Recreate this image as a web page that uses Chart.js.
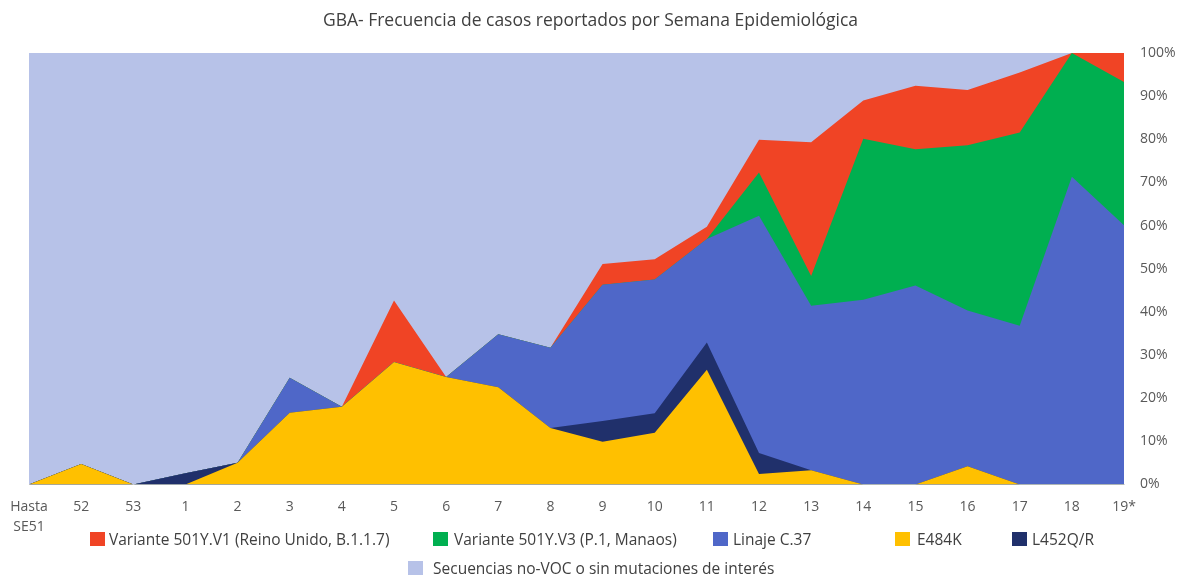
<!DOCTYPE html>
<html>
<head>
<meta charset="utf-8">
<title>GBA - Frecuencia de casos</title>
<script src="https://cdn.jsdelivr.net/npm/chart.js@4.4.0/dist/chart.umd.min.js"></script>
<style>
    body { margin: 0; background: #fff; }
    #wrap { position: relative; width: 1181px; height: 576px; font-family: "Open Sans", sans-serif; overflow: hidden; }
    #grafico { position: absolute; left: 0; top: 0; }
    .item-leyenda {
        position: absolute; height: 20px; display: flex; align-items: center;
        font-size: 15.5px; color: #404040; white-space: nowrap;
    }
    .item-leyenda .caja { width: 15px; height: 14px; margin-right: 4px; }
</style>
</head>
<body>
<div id="wrap">
    <canvas id="grafico" width="1181" height="576"></canvas>
    <div id="leyenda"></div>
</div>
<script>
// --- Datos (porcentaje de secuencias por semana epidemiológica) ---
const semanas = [["Hasta", "SE51"], "52", "53", "1", "2", "3", "4", "5", "6", "7", "8",
    "9", "10", "11", "12", "13", "14", "15", "16", "17", "18", "19*"];

const e484k   = [0, 4.7, 0, 0, 5, 16.6, 18, 28.4, 24.9, 22.5, 13.1, 9.9, 12, 26.6, 2.4, 3.3, 0, 0, 4.2, 0, 0, 0];
const l452qr  = [0, 0, 0, 2.6, 0, 0, 0, 0, 0, 0, 0, 4.8, 4.5, 6.3, 4.9, 0, 0, 0, 0, 0, 0, 0];
const linajeC37 = [0, 0, 0, 0, 0, 8.1, 0, 0, 0, 12.3, 18.6, 31.6, 31, 24, 55, 38.1, 42.8, 46.1, 36.1, 36.8, 71.3, 60.1];
const varianteV3 = [0, 0, 0, 0, 0, 0, 0, 0, 0, 0, 0, 0, 0, 0, 10, 6.9, 37.3, 31.6, 38.3, 44.8, 28.7, 33.2];
const varianteV1 = [0, 0, 0, 0, 0, 0, 0, 14.2, 0, 0, 0, 4.8, 4.7, 2.8, 7.6, 31, 8.9, 14.7, 12.8, 13.9, 0, 6.7];
const noVOC   = [100, 95.3, 100, 97.4, 95, 75.3, 82, 57.4, 75.1, 65.2, 68.3, 48.9, 47.8, 40.3, 20.1, 20.7, 11, 7.6, 8.6, 4.5, 0, 0];

const ticksY = [0, 10, 20, 30, 40, 50, 60, 70, 80, 90, 100];

// Orden de apilado (de abajo hacia arriba)
const series = [
    { label: "E484K", data: e484k, color: "#FFC000" },
    { label: "L452Q/R", data: l452qr, color: "#20306B" },
    { label: "Linaje C.37", data: linajeC37, color: "#4F67C8" },
    { label: "Variante 501Y.V3 (P.1, Manaos)", data: varianteV3, color: "#00AF50" },
    { label: "Variante 501Y.V1 (Reino Unido, B.1.1.7)", data: varianteV1, color: "#F04425" },
    { label: "Secuencias no-VOC o sin mutaciones de interés", data: noVOC, color: "#B7C2E8" },
];

Chart.defaults.font.family = '"Open Sans", sans-serif';

const grafico = new Chart(document.getElementById("grafico"), {
    type: "line",
    data: {
        labels: semanas,
        datasets: series.map((s) => ({
            label: s.label,
            data: s.data,
            backgroundColor: s.color,
            borderColor: s.color,
            borderWidth: 0,
            pointRadius: 0,
            tension: 0,
            fill: "origin", // el primer dataset se dibuja encima, así no quedan huecos
        })),
    },
    options: {
        responsive: false,
        animation: false,
        layout: { padding: { left: 0, right: 0, top: 0, bottom: 27 } },
        plugins: {
            title: {
                display: true,
                text: "GBA- Frecuencia de casos reportados por Semana Epidemiológica",
                color: "#404040",
                font: { size: 17.5, weight: "normal" },
                padding: { top: 11, bottom: 21 },
            },
            legend: { display: false },
            tooltip: { enabled: false },
        },
        scales: {
            x: {
                stacked: true,
                grid: { display: false, drawTicks: false },
                border: { color: "#D9D9D9" },
                afterFit: (axis) => {
                    // margen izquierdo del área de trazado, sin descentrar el título
                    axis.paddingLeft = 29;
                },
                ticks: {
                    color: "#595959",
                    font: { size: 14, lineHeight: 1.45 },
                    maxRotation: 0,
                    autoSkip: false,
                    padding: 12,
                },
            },
            y: {
                position: "right",
                stacked: true,
                min: 0,
                max: 100,
                grid: { display: false, drawTicks: false },
                border: { display: false },
                afterBuildTicks: (axis) => {
                    axis.ticks = ticksY.map((v) => ({ value: v }));
                },
                afterFit: (axis) => {
                    axis.width = 57;
                },
                ticks: {
                    color: "#595959",
                    font: { size: 14 },
                    padding: 16,
                    callback: (v) => v + "%",
                },
            },
        },
    },
});

// --- Leyenda en HTML (mismo orden que el original) ---
const ordenLeyenda = [4, 3, 2, 0, 1, 5];
const posLeyenda = [
    [90, 529, 4], [433, 529, 6], [713, 529, 5], [895, 529, 7], [1012, 529, 5],
    [408, 558, 10],
];
const leyenda = document.getElementById("leyenda");
ordenLeyenda.forEach((idx, i) => {
    const ds = grafico.data.datasets[idx];
    const item = document.createElement("div");
    item.className = "item-leyenda";
    item.style.left = posLeyenda[i][0] + "px";
    item.style.top = posLeyenda[i][1] + "px";
    const caja = document.createElement("span");
    caja.className = "caja";
    caja.style.background = ds.backgroundColor;
    caja.style.marginRight = posLeyenda[i][2] + "px";
    const texto = document.createElement("span");
    texto.textContent = ds.label;
    item.appendChild(caja);
    item.appendChild(texto);
    leyenda.appendChild(item);
});
</script>
</body>
</html>
